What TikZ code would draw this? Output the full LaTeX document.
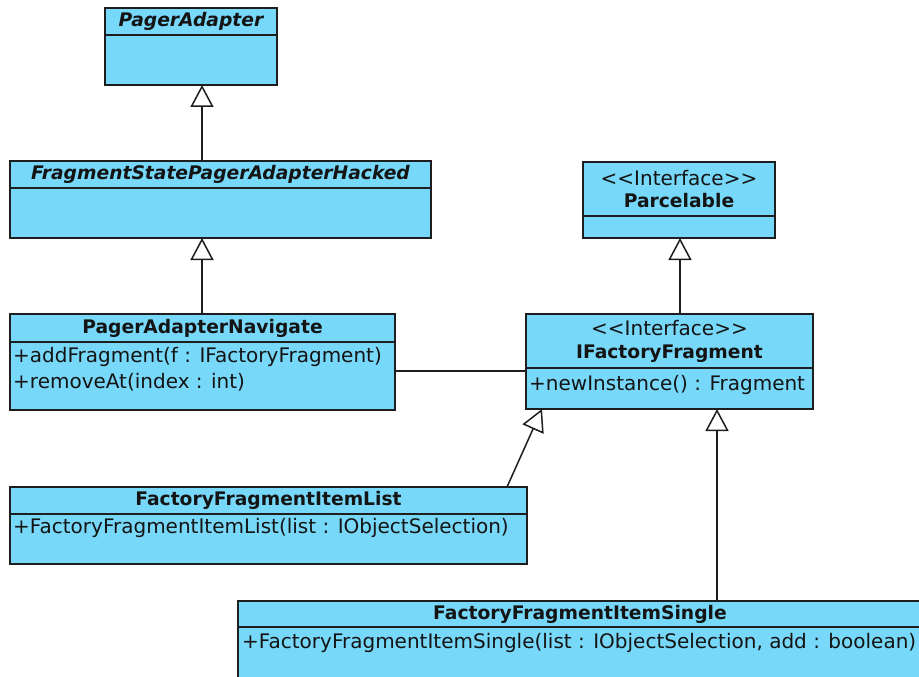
\documentclass[tikz,border=0pt]{standalone}
\usepackage{fontspec}
\newfontfamily\umlfont{DejaVu Sans}
\usetikzlibrary{arrows.meta,calc}
\definecolor{umlfill}{RGB}{119,216,249}
\definecolor{umlline}{RGB}{30,30,30}
\definecolor{umltext}{RGB}{20,20,20}
\begin{document}
\begin{tikzpicture}[x=1pt,y=-1pt,
  cls/.style={draw=umlline, fill=umlfill, line width=1.5pt, anchor=north west,
    inner sep=0pt, outer sep=0pt},
  sepline/.style={draw=umlline, line width=1.5pt},
  ttl/.style={text=umltext, inner sep=0pt, font=\umlfont\fontsize{18.7}{20}\selectfont\bfseries},
  ittl/.style={ttl, font=\umlfont\fontsize{18.7}{20}\selectfont\bfseries\itshape},
  stereo/.style={text=umltext, inner sep=0pt, font=\umlfont\fontsize{20}{22}\selectfont},
  mtext/.style={text=umltext, inner sep=0pt, anchor=west, font=\umlfont\fontsize{20}{22}\selectfont},
  gen/.style={draw=umlline, line width=1.5pt,
    -{Triangle[open, length=22pt, width=23pt, fill=white]}},
  assoc/.style={draw=umlline, line width=1.5pt}
]
\useasboundingbox[fill=white] (0,0) rectangle (919,677);

% PagerAdapter
\node[cls, minimum width=172pt, minimum height=77pt] (pa) at (105,8) {};
\draw[sepline] ($(pa.north west)+(0,27)$) -- ($(pa.north east)+(0,27)$);
\node[ittl] (pat) at ($(pa.north)+(0,13.5)$) {PagerAdapter};

% FragmentStatePagerAdapterHacked
\node[cls, minimum width=421pt, minimum height=77pt] (fs) at (10,161) {};
\draw[sepline] ($(fs.north west)+(0,27)$) -- ($(fs.north east)+(0,27)$);
\node[ittl] (fst) at ($(fs.north)+(0,13.5)$) {FragmentStatePagerAdapterHacked};

% PagerAdapterNavigate
\node[cls, minimum width=385pt, minimum height=96pt] (pan) at (10,314) {};
\draw[sepline] ($(pan.north west)+(0,28)$) -- ($(pan.north east)+(0,28)$);
\node[ttl] (pant) at ($(pan.north)+(0,14)$) {PagerAdapterNavigate};
\node[mtext] (panm1) at ($(pan.north west)+(3,43)$) {+addFragment(f : IFactoryFragment)};
\node[mtext] (panm2) at ($(pan.north west)+(3,68)$) {+removeAt(index : int)};

% Parcelable
\node[cls, minimum width=192pt, minimum height=76pt] (pc) at (583,162) {};
\draw[sepline] ($(pc.north west)+(0,54)$) -- ($(pc.north east)+(0,54)$);
\node[stereo] (pcs) at ($(pc.north)+(0,16)$) {<\kern0pt<Interface>\kern0pt>};
\node[ttl] (pct) at ($(pc.north)+(0,39)$) {Parcelable};

% IFactoryFragment
\node[cls, minimum width=287pt, minimum height=95pt] (iff) at (526,314) {};
\draw[sepline] ($(iff.north west)+(0,54)$) -- ($(iff.north east)+(0,54)$);
\node[stereo] (iffs) at ($(iff.north)+(0,14)$) {<\kern0pt<Interface>\kern0pt>};
\node[ttl] (ifft) at ($(iff.north)+(0,40)$) {IFactoryFragment};
\node[mtext] (iffm) at ($(iff.north west)+(3,71)$) {+newInstance() : Fragment};

% FactoryFragmentItemList
\node[cls, minimum width=517pt, minimum height=77pt] (fl) at (10,487) {};
\draw[sepline] ($(fl.north west)+(0,27)$) -- ($(fl.north east)+(0,27)$);
\node[ttl] (flt) at ($(fl.north)+(0,13.5)$) {FactoryFragmentItemList};
\node[mtext] (flm) at ($(fl.north west)+(3,41)$) {+FactoryFragmentItemList(list : IObjectSelection)};

% FactoryFragmentItemSingle
\node[cls, minimum width=684pt, minimum height=78pt] (fsi) at (238,601) {};
\draw[sepline] ($(fsi.north west)+(0,26)$) -- ($(fsi.north east)+(0,26)$);
\node[ttl] (fsit) at ($(fsi.north)+(0,13)$) {FactoryFragmentItemSingle};
\node[mtext] (fsim) at ($(fsi.north west)+(4,42)$) {+FactoryFragmentItemSingle(list : IObjectSelection, add : boolean)};

% connectors
\draw[gen] ($(fs.north west)+(192,0)$) -- ($(pa.south west)+(97,0)$);
\draw[gen] ($(pan.north west)+(192,0)$) -- ($(fs.south west)+(192,0)$);
\draw[gen] ($(iff.north west)+(154,0)$) -- ($(pc.south west)+(97,0)$);
\draw[gen] ($(fl.north west)+(497,0)$) -- ($(iff.south west)+(16,0)$);
\draw[gen] ($(fsi.north west)+(479,0)$) -- ($(iff.south west)+(191,0)$);
\draw[assoc] ($(pan.north east)+(0,57)$) -- ($(iff.north west)+(0,57)$);
\end{tikzpicture}
\end{document}
